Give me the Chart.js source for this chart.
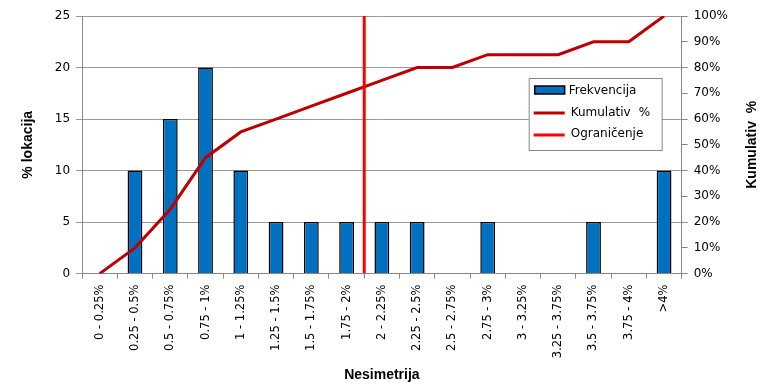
<!DOCTYPE html>
<html>
<head>
<meta charset="utf-8">
<script src="https://cdn.jsdelivr.net/npm/chart.js@4.4.0/dist/chart.umd.min.js"></script>
<style>
  html, body { margin: 0; padding: 0; background: #fff; }
  #wrap { width: 763px; height: 384px; position: relative; }
</style>
</head>
<body>
<div id="wrap"><canvas id="myChart"></canvas></div>
<script>
var kategorije = ['0 - 0.25%', '0.25 - 0.5%', '0.5 - 0.75%', '0.75 - 1%', '1 - 1.25%', '1.25 - 1.5%',
    '1.5 - 1.75%', '1.75 - 2%', '2 - 2.25%', '2.25 - 2.5%', '2.5 - 2.75%', '2.75 - 3%', '3 - 3.25%',
    '3.25 - 3.75%', '3.5 - 3.75%', '3.75 - 4%', '>4%'];
var frekvencija = [0, 10, 15, 20, 10, 5, 5, 5, 5, 5, 0, 5, 0, 0, 5, 0, 10];
var kumulativ = [0, 10, 25, 45, 55, 60, 65, 70, 75, 80, 80, 85, 85, 85, 90, 90, 100];
// granica izmedju 1.75 - 2% i 2 - 2.25%
var ogranicenjeX = [7.5, 7.5];
var ogranicenjeY = [0, 25];

var font = 'DejaVu Sans';
var titleFont = 'Liberation Sans';

var ctx = document.getElementById('myChart').getContext('2d');

// legenda unutar grafa + desni naslov (citanje odozdo prema gore)
var extras = {
    id: 'extras',
    afterDraw: function (chart) {
        var c = chart.ctx;
        var a = chart.chartArea;
        c.save();
        // desni naslov
        c.font = 'bold 14px ' + titleFont;
        c.fillStyle = '#000';
        c.textAlign = 'center';
        c.textBaseline = 'middle';
        c.translate(752, (a.top + a.bottom) / 2);
        c.rotate(-Math.PI / 2);
        c.fillText('Kumulativ  %', 0, 0);
        c.restore();

        c.save();
        var bx = a.right - 153, by = a.top + 62, bw = 133, bh = 72;
        c.fillStyle = '#fff';
        c.fillRect(bx, by, bw, bh);
        c.strokeStyle = '#888';
        c.lineWidth = 1;
        c.strokeRect(bx + 0.5, by + 0.5, bw, bh);
        c.font = '12px ' + font;
        c.fillStyle = '#000';
        c.textBaseline = 'middle';
        // Frekvencija
        c.fillStyle = '#0070C0';
        c.fillRect(bx + 6, by + 8, 30, 8);
        c.strokeStyle = '#000';
        c.lineWidth = 1.5;
        c.strokeRect(bx + 6, by + 8, 30, 8);
        c.fillStyle = '#000';
        c.fillText('Frekvencija', bx + 40, by + 13);
        // Kumulativ
        c.strokeStyle = '#C00000';
        c.lineWidth = 3;
        c.beginPath();
        c.moveTo(bx + 5, by + 35);
        c.lineTo(bx + 36, by + 35);
        c.stroke();
        c.fillText('Kumulativ', bx + 42, by + 35);
        c.fillText('%', bx + 110, by + 35);
        // Ogranicenje
        c.strokeStyle = '#FF0000';
        c.beginPath();
        c.moveTo(bx + 5, by + 57);
        c.lineTo(bx + 36, by + 57);
        c.stroke();
        c.fillText('Ograničenje', bx + 42, by + 56);
        c.restore();
    }
};

var myChart = new Chart(ctx, {
    data: {
        labels: kategorije,
        datasets: [
            {
                type: 'line',
                label: 'Ograničenje',
                data: ogranicenjeX.map(function (x, i) { return { x: x, y: ogranicenjeY[i] }; }),
                xAxisID: 'x2',
                yAxisID: 'y',
                borderColor: '#FF0000',
                borderWidth: 3,
                pointRadius: 0,
                order: 0
            },
            {
                type: 'line',
                label: 'Kumulativ    %',
                data: kumulativ,
                xAxisID: 'x',
                yAxisID: 'y2',
                borderColor: '#C00000',
                borderWidth: 3,
                pointRadius: 0,
                tension: 0,
                order: 1
            },
            {
                type: 'bar',
                label: 'Frekvencija',
                data: frekvencija,
                xAxisID: 'x',
                yAxisID: 'y',
                backgroundColor: '#0070C0',
                borderColor: '#000',
                borderWidth: 1.5,
                grouped: false,
                categoryPercentage: 1,
                barPercentage: 0.42,
                order: 2
            }
        ]
    },
    options: {
        responsive: true,
        maintainAspectRatio: false,
        animation: false,
        layout: {
            padding: { left: 20, right: 29, top: 16, bottom: 0 }
        },
        scales: {
            x: {
                type: 'category',
                offset: true,
                ticks: {
                    color: '#000',
                    font: { family: font, size: 11.5 },
                    minRotation: 90,
                    maxRotation: 90,
                    autoSkip: false,
                    padding: 6
                },
                grid: {
                    offset: true,
                    drawOnChartArea: false,
                    color: '#888',
                    tickLength: 5
                },
                border: { color: '#888' },
                title: {
                    display: true,
                    text: 'Nesimetrija',
                    color: '#000',
                    font: { family: titleFont, size: 14, weight: 'bold' },
                    padding: { top: 3, bottom: 0 }
                }
            },
            x2: {
                type: 'linear',
                display: false,
                min: -0.5,
                max: 16.5
            },
            y: {
                position: 'left',
                min: 0,
                max: 25,
                ticks: {
                    stepSize: 5,
                    color: '#000',
                    font: { family: font, size: 12 },
                    padding: 6
                },
                grid: {
                    color: '#999',
                    tickLength: 6
                },
                border: { color: '#888' },
                title: {
                    display: true,
                    text: '% lokacija',
                    color: '#000',
                    font: { family: titleFont, size: 14, weight: 'bold' },
                    padding: { top: 0, bottom: 12 }
                }
            },
            y2: {
                position: 'right',
                min: 0,
                max: 100,
                ticks: {
                    stepSize: 10,
                    color: '#000',
                    font: { family: font, size: 12 },
                    padding: 6,
                    callback: function (v) { return v + '%'; }
                },
                grid: {
                    drawOnChartArea: false,
                    color: '#888',
                    tickLength: 6
                },
                border: { color: '#888' }
            }
        },
        plugins: {
            legend: { display: false },
            tooltip: { enabled: false }
        }
    },
    plugins: [extras]
});
</script>
</body>
</html>
